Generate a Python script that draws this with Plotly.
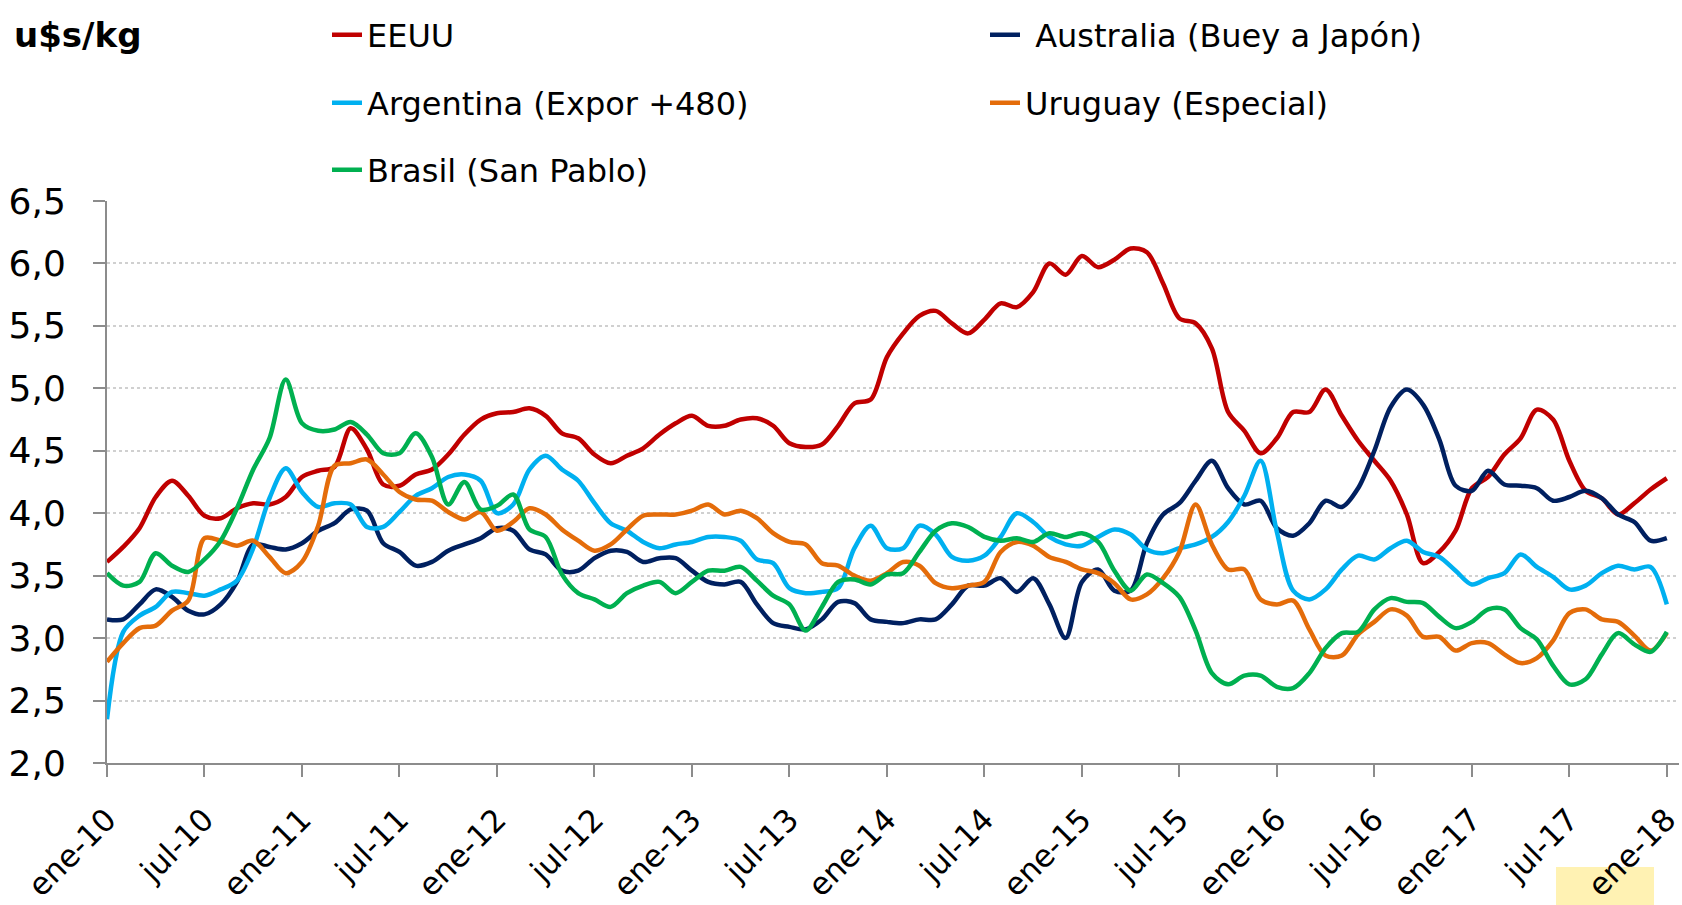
import plotly.graph_objects as go

MONTHS = ["ene", "feb", "mar", "abr", "may", "jun", "jul", "ago", "sep", "oct", "nov", "dic"]
YEARS = ["10", "11", "12", "13", "14", "15", "16", "17", "18"]
categories = [f"{m}-{y}" for y in YEARS for m in MONTHS][:97]
tick_labels = categories[::6]

eeuu = [3.61, 3.73, 3.88, 4.13, 4.26, 4.14, 3.98, 3.96, 4.04, 4.08, 4.07, 4.13, 4.29, 4.34, 4.37, 4.68, 4.51, 4.23, 4.22, 4.31,
        4.35, 4.47, 4.63, 4.75, 4.80, 4.81, 4.84, 4.78, 4.64, 4.60, 4.47, 4.40, 4.46, 4.52, 4.63, 4.72, 4.78, 4.70, 4.70, 4.75,
        4.76, 4.70, 4.56, 4.53, 4.55, 4.70, 4.88, 4.91, 5.25, 5.44, 5.58, 5.62, 5.52, 5.44, 5.55, 5.68, 5.65, 5.77, 6.00, 5.91,
        6.06, 5.97, 6.03, 6.12, 6.09, 5.84, 5.56, 5.52, 5.32, 4.81, 4.66, 4.48, 4.60, 4.81, 4.81, 4.99, 4.78, 4.58, 4.42, 4.26,
        3.99, 3.60, 3.69, 3.86, 4.20, 4.29, 4.47, 4.60, 4.83, 4.75, 4.42, 4.18, 4.12, 3.99, 4.08, 4.19, 4.28]
argentina = [2.35, 3.05, 3.18, 3.25, 3.37, 3.36, 3.34, 3.39, 3.46, 3.72, 4.12, 4.36, 4.17, 4.05, 4.08, 4.07, 3.89, 3.89, 4.01, 4.14,
             4.20, 4.29, 4.31, 4.26, 4.00, 4.07, 4.35, 4.46, 4.35, 4.26, 4.08, 3.92, 3.86, 3.77, 3.72, 3.75, 3.77, 3.81, 3.81, 3.78,
             3.63, 3.60, 3.40, 3.36, 3.37, 3.40, 3.72, 3.90, 3.72, 3.72, 3.90, 3.83, 3.65, 3.62, 3.66, 3.81, 4.00, 3.93, 3.81, 3.75,
             3.74, 3.81, 3.87, 3.83, 3.71, 3.68, 3.72, 3.75, 3.81, 3.93, 4.14, 4.42, 3.85, 3.38, 3.31, 3.39, 3.55, 3.66, 3.63, 3.72,
             3.78, 3.69, 3.65, 3.54, 3.43, 3.48, 3.52, 3.67, 3.57, 3.49, 3.39, 3.42, 3.52, 3.58, 3.55, 3.57, 3.27]
brasil = [3.52, 3.42, 3.45, 3.68, 3.58, 3.53, 3.63, 3.78, 4.04, 4.35, 4.60, 5.07, 4.72, 4.66, 4.67, 4.73, 4.63, 4.48, 4.48, 4.64,
          4.45, 4.07, 4.25, 4.03, 4.06, 4.15, 3.87, 3.81, 3.51, 3.36, 3.31, 3.25, 3.36, 3.42, 3.45, 3.36, 3.45, 3.54, 3.54, 3.57,
          3.46, 3.34, 3.27, 3.06, 3.25, 3.45, 3.47, 3.43, 3.51, 3.52, 3.69, 3.86, 3.92, 3.89, 3.81, 3.78, 3.80, 3.77, 3.84, 3.81,
          3.84, 3.77, 3.54, 3.38, 3.51, 3.44, 3.33, 3.06, 2.72, 2.63, 2.70, 2.70, 2.61, 2.60, 2.72, 2.92, 3.04, 3.05, 3.23, 3.32,
          3.29, 3.28, 3.17, 3.08, 3.13, 3.23, 3.23, 3.08, 2.99, 2.78, 2.63, 2.67, 2.87, 3.04, 2.95, 2.89, 3.05]
australia = [3.15, 3.15, 3.27, 3.39, 3.33, 3.22, 3.19, 3.27, 3.45, 3.75, 3.73, 3.71, 3.76, 3.86, 3.92, 4.03, 4.02, 3.76, 3.69, 3.58,
             3.61, 3.70, 3.75, 3.80, 3.88, 3.86, 3.71, 3.67, 3.54, 3.54, 3.64, 3.70, 3.69, 3.61, 3.64, 3.64, 3.54, 3.45, 3.43, 3.45,
             3.27, 3.12, 3.09, 3.07, 3.15, 3.29, 3.28, 3.15, 3.13, 3.12, 3.15, 3.15, 3.27, 3.42, 3.42, 3.48, 3.37, 3.48, 3.27, 3.00,
             3.45, 3.55, 3.38, 3.38, 3.76, 3.99, 4.08, 4.26, 4.42, 4.20, 4.07, 4.10, 3.88, 3.82, 3.92, 4.10, 4.05, 4.20, 4.50, 4.85,
             4.99, 4.87, 4.59, 4.22, 4.18, 4.34, 4.23, 4.22, 4.20, 4.10, 4.13, 4.18, 4.12, 3.99, 3.93, 3.78, 3.80]
uruguay = [2.81, 2.96, 3.08, 3.10, 3.22, 3.30, 3.80, 3.78, 3.74, 3.78, 3.65, 3.52, 3.61, 3.90, 4.38, 4.40, 4.43, 4.31, 4.17, 4.11,
           4.10, 4.01, 3.95, 4.01, 3.86, 3.93, 4.04, 3.99, 3.87, 3.78, 3.70, 3.75, 3.87, 3.98, 3.99, 3.99, 4.02, 4.07, 3.99, 4.02,
           3.96, 3.84, 3.77, 3.75, 3.60, 3.58, 3.50, 3.46, 3.52, 3.61, 3.58, 3.44, 3.40, 3.42, 3.45, 3.69, 3.77, 3.74, 3.65, 3.61,
           3.55, 3.52, 3.44, 3.31, 3.35, 3.48, 3.69, 4.07, 3.75, 3.55, 3.55, 3.31, 3.27, 3.30, 3.07, 2.86, 2.86, 3.03, 3.13, 3.23,
           3.18, 3.01, 3.01, 2.90, 2.96, 2.96, 2.87, 2.80, 2.84, 2.98, 3.20, 3.23, 3.15, 3.13, 3.02, 2.90, 3.04]

series = [
    ("EEUU", eeuu, "#C00000", "legend"),
    (" Australia (Buey a Japón)", australia, "#002060", "legend2"),
    ("Argentina (Expor +480)", argentina, "#00B0F0", "legend3"),
    ("Uruguay (Especial)", uruguay, "#E46C0A", "legend4"),
    ("Brasil (San Pablo)", brasil, "#00B050", "legend5"),
]

FONT = "DejaVu Sans, Verdana, sans-serif"

fig = go.Figure()
for name, vals, color, lg in series:
    fig.add_trace(go.Scatter(
        x=categories, y=vals, name=name, mode="lines",
        line=dict(color=color, width=4.5, shape="spline", smoothing=0.9),
        legend=lg,
    ))

W, H = 1682, 905
L, R, T, B = 107, 3, 201, 142
pw, ph = W - L - R, H - T - B

def px_x(p):
    return (p - L) / pw

def px_y(p):
    return (H - B - p) / ph

leg_common = dict(font=dict(family=FONT, size=32, color="#000000"), bgcolor="rgba(0,0,0,0)",
                  xanchor="left", yanchor="middle", borderwidth=0)
fig.update_layout(
    legend=dict(x=px_x(327), y=px_y(35), **leg_common),
    legend2=dict(x=px_x(985), y=px_y(35), **leg_common),
    legend3=dict(x=px_x(327), y=px_y(103), **leg_common),
    legend4=dict(x=px_x(985), y=px_y(103), **leg_common),
    legend5=dict(x=px_x(327), y=px_y(170), **leg_common),
)

fig.update_layout(
    width=W, height=H,
    margin=dict(l=L, r=R, t=T, b=B, pad=0, autoexpand=False),
    paper_bgcolor="white", plot_bgcolor="white",
    separators=",.",
    font=dict(family=FONT, size=32, color="#000000"),
    showlegend=True,
    annotations=[dict(text="<b>u$s/kg</b>", xref="paper", yref="paper",
                      x=px_x(12), y=px_y(35), xanchor="left", yanchor="middle",
                      showarrow=False, font=dict(family=FONT, size=34, color="#000000"))],
    shapes=[dict(type="rect", xref="paper", yref="paper", layer="below",
                 x0=px_x(1556), x1=px_x(1654), y0=px_y(867), y1=px_y(905),
                 fillcolor="#FFF2B3", line=dict(width=0))],
)

fig.update_xaxes(
    type="category", range=[0, 96.75], automargin=False,
    tickmode="array", tickvals=tick_labels, ticktext=tick_labels,
    tickangle=-45, tickfont=dict(family=FONT, size=31),
    showline=True, linecolor="#8C8C8C", linewidth=2,
    ticks="outside", ticklen=12, tickwidth=2, tickcolor="#8C8C8C",
    showgrid=False, zeroline=False, ticklabelstandoff=12,
)
fig.update_yaxes(
    range=[2.0, 6.5], automargin=False,
    tickmode="array", tickvals=[2.0, 2.5, 3.0, 3.5, 4.0, 4.5, 5.0, 5.5, 6.0, 6.5],
    tickformat=".1f", tickfont=dict(family=FONT, size=36),
    showline=True, linecolor="#8C8C8C", linewidth=2,
    ticks="outside", ticklen=12, tickwidth=2, tickcolor="#8C8C8C",
    showgrid=True, gridcolor="#D0D0D0", gridwidth=1.5, griddash="dot",
    zeroline=False, ticklabelstandoff=20,
)

fig.write_html("out.html", config={"displayModeBar": False},
               post_script="document.body.style.margin='0';document.body.style.overflow='hidden';")
